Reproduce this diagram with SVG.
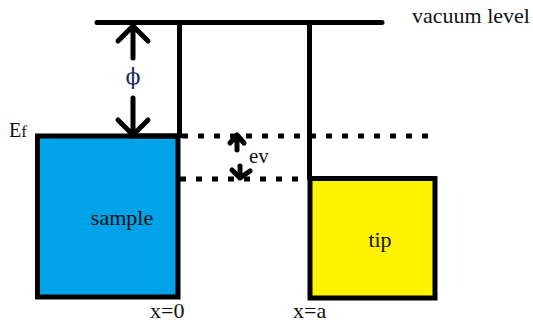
<svg xmlns="http://www.w3.org/2000/svg" width="533" height="325" viewBox="0 0 533 325">
<style>
.ln{stroke:#000;stroke-width:5;fill:none}
.arr{stroke:#000;stroke-width:5;fill:none;stroke-linecap:round;stroke-linejoin:round}
.dot{stroke:#000;stroke-width:5;fill:none;stroke-dasharray:6 10}
.t{font-family:"Liberation Serif","Times New Roman",serif;fill:#111}
</style>
<rect width="533" height="325" fill="#fff"/>
<g id="sample">
<rect x="37.5" y="136" width="140.5" height="161" fill="#00A2E8" stroke="#000" stroke-width="5"/>
<text class="t" x="122" y="225" font-size="22" text-anchor="middle">sample</text>
</g>
<g id="tip">
<rect x="310" y="178.5" width="125" height="119.5" fill="#FFF200" stroke="#000" stroke-width="5"/>
<text class="t" x="380" y="247" font-size="22" text-anchor="middle">tip</text>
</g>
<g id="connectors">
<line class="ln" x1="97" y1="22.5" x2="382" y2="22.5" stroke-linecap="round"/>
<line class="ln" x1="179.5" y1="20" x2="179.5" y2="138"/>
<line class="ln" x1="309.5" y1="20" x2="309.5" y2="180"/>
<line class="ln" x1="130" y1="136" x2="180" y2="136"/>
<line class="dot" x1="182" y1="136" x2="438" y2="136"/>
<line class="dot" x1="180" y1="179" x2="307" y2="179"/>
<path class="arr" d="M133 58 V27 M118 41 L133 26 L148 41"/>
<path class="arr" d="M133 98 V134 M118 120 L133 135 L148 120"/>
<path class="arr" d="M237 150 V136 M230 143 L237 135 L244 143"/>
<path class="arr" d="M240 166 V178 M232 170 L240 178 L250 171"/>
</g>
<g id="labels">
<text x="133" y="84" font-size="22" text-anchor="middle" style="font-family:'DejaVu Serif',serif;fill:#1d2a5a">ϕ</text>
<text class="t" x="9" y="137" font-size="20">E<tspan font-size="17">f</tspan></text>
<text class="t" x="412" y="23" font-size="22">vacuum level</text>
<text class="t" x="249" y="163" font-size="21">ev</text>
<text class="t" x="150" y="318" font-size="22">x=0</text>
<text class="t" x="293" y="318" font-size="22">x=a</text>
</g>
</svg>
